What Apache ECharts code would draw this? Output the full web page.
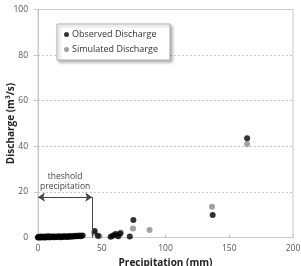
<!DOCTYPE html>
<html>
<head>
<meta charset="utf-8">
<script src="https://cdn.jsdelivr.net/npm/echarts@6/dist/echarts.min.js"></script>
<style>
  html, body { margin: 0; padding: 0; background: #fff; }
  #chart { width: 301px; height: 266px; }
</style>
</head>
<body>
<div id="chart"></div>
<script>
var xTicks = [0, 50, 100, 150, 200];
var yTicks = [0, 20, 40, 60, 80, 100];

// [precipitation (mm), discharge (m3/s)]
var observed = [
  [0, 0], [0.3, 0.1], [1, 0.2], [1.8, 0], [2.5, 0.3], [3.2, 0.1], [4, 0.2], [5, 0],
  [5.8, 0.4], [6.5, 0.1], [7.4, 0.2], [8.2, 0.5], [9, 0.1], [10, 0.3], [11, 0.2],
  [12, 0.4], [13, 0.1], [14, 0.3], [15.2, 0.2], [16, 0.5], [17, 0.3], [18.3, 0.1],
  [19, 0.4], [20.2, 0.3], [21, 0.6], [22.4, 0.2], [23.5, 0.4], [24.6, 0.5],
  [25.5, 0.3], [26.8, 0.6], [28, 0.4], [29.2, 0.7], [30.5, 0.5], [32, 0.8],
  [33.5, 0.6], [35, 0.9],
  [44.5, 2.8], [47, 0.8], [57, 0.3], [59, 0.9], [61, 1.5], [63, 0.5], [64.5, 1.8],
  [72, 0.4], [74.8, 7.7], [137, 9.9], [164, 43.5]
];
var simulated = [
  [0.2, 0.3], [0.8, 0], [1.5, 0.4], [2.2, 0.1], [3, 0.5], [3.8, 0], [4.6, 0.3],
  [5.4, 0.2], [6.2, 0], [7, 0.4], [7.8, 0.1], [8.7, 0.3], [9.5, 0], [10.5, 0.5],
  [11.5, 0.1], [12.5, 0.2], [13.5, 0.5], [14.6, 0.1], [15.6, 0.3], [16.5, 0.1],
  [17.6, 0.6], [18.8, 0.3], [19.6, 0.2], [20.8, 0.5], [21.8, 0.3], [23, 0.6],
  [24, 0.2], [25, 0.7], [26.2, 0.4], [27.4, 0.8], [28.6, 0.5], [29.8, 0.9],
  [31.2, 0.6], [32.8, 1], [34.2, 0.7],
  [44, 2.0], [48, 0.5], [58, 0.6], [60, 1.2], [62, 0.8], [65, 2.2], [74.5, 4],
  [87.5, 3.3], [136.5, 13.5], [164, 41]
];
var thresholdX = 42.5;
var thresholdY = 17.7;

var chart = echarts.init(document.getElementById('chart'), null, { renderer: 'canvas' });

var font = 'Open Sans, Noto Sans, sans-serif';

var option = {
  animation: false,
  backgroundColor: '#fff',
  grid: {
    left: 38, right: 8, top: 9.5, bottom: 28.5,
    containLabel: false,
    outerBoundsMode: 'none',
    show: true, borderColor: '#c8c8c8', borderWidth: 1
  },
  legend: {
    orient: 'vertical',
    left: 57, top: 24,
    padding: [6, 12, 6, 7],
    itemGap: 6,
    itemWidth: 5, itemHeight: 5,
    backgroundColor: '#fff',
    borderColor: '#b0b0b0',
    borderWidth: 1,
    shadowColor: 'rgba(0,0,0,0.3)',
    shadowBlur: 3,
    shadowOffsetX: 2,
    shadowOffsetY: 2,
    textStyle: { fontFamily: font, fontSize: 9, color: '#333', padding: [0, 0, 0, -2] },
    data: [
      { name: 'Observed Discharge', icon: 'circle' },
      { name: 'Simulated Discharge', icon: 'circle' }
    ]
  },
  xAxis: {
    type: 'value',
    min: xTicks[0], max: xTicks[xTicks.length - 1], interval: 50,
    name: 'Precipitation (mm)',
    nameLocation: 'middle',
    nameGap: 21,
    nameMoveOverlap: false,
    nameTextStyle: { fontFamily: font, fontSize: 10, fontWeight: 'bold', color: '#222' },
    axisLine: { show: true, lineStyle: { color: '#c8c8c8' } },
    axisTick: { show: true, length: 3, inside: true, lineStyle: { color: '#c8c8c8' } },
    axisLabel: { fontFamily: font, fontSize: 8.5, color: '#555', margin: 7 },
    splitLine: { show: false }
  },
  yAxis: {
    type: 'value',
    min: yTicks[0], max: yTicks[yTicks.length - 1], interval: 20,
    name: 'Discharge (m\u00b3/s)',
    nameLocation: 'middle',
    nameGap: 22,
    nameMoveOverlap: false,
    nameTextStyle: { fontFamily: font, fontSize: 10, fontWeight: 'bold', color: '#222' },
    axisLine: { show: true, lineStyle: { color: '#c8c8c8' } },
    axisTick: { show: true, length: 4, lineStyle: { color: '#c8c8c8', type: 'dashed' } },
    axisLabel: { fontFamily: font, fontSize: 8.5, color: '#555', margin: 10 },
    splitLine: { show: true, lineStyle: { color: '#c8c8c8', type: [2, 2] } }
  },
  series: [
    {
      name: 'Simulated Discharge',
      type: 'scatter',
      symbol: 'circle',
      symbolSize: 6,
      itemStyle: { color: '#8a8a8a' },
      data: simulated,
      z: 2
    },
    {
      name: 'Observed Discharge',
      type: 'scatter',
      symbol: 'circle',
      symbolSize: 6,
      itemStyle: { color: '#000' },
      data: observed,
      z: 3,
      markLine: {
        silent: true,
        animation: false,
        label: { show: false },
        lineStyle: { color: '#444', width: 1, type: 'solid' },
        data: [
          [
            { coord: [0, thresholdY], symbol: 'arrow', symbolSize: 7 },
            { coord: [thresholdX, thresholdY], symbol: 'arrow', symbolSize: 7 }
          ],
          [
            { coord: [thresholdX, thresholdY], symbol: 'none' },
            { coord: [thresholdX, 0], symbol: 'none' }
          ]
        ]
      },
      markPoint: {
        silent: true,
        symbol: 'circle',
        symbolSize: 0,
        label: {
          show: true,
          formatter: 'theshold\nprecipitation',
          fontFamily: font,
          fontSize: 8.5,
          lineHeight: 10,
          color: '#444',
          align: 'center'
        },
        data: [{ coord: [thresholdX / 2, 24.5] }]
      }
    }
  ]
};

chart.setOption(option);
window.addEventListener('resize', chart.resize);
</script>
</body>
</html>
